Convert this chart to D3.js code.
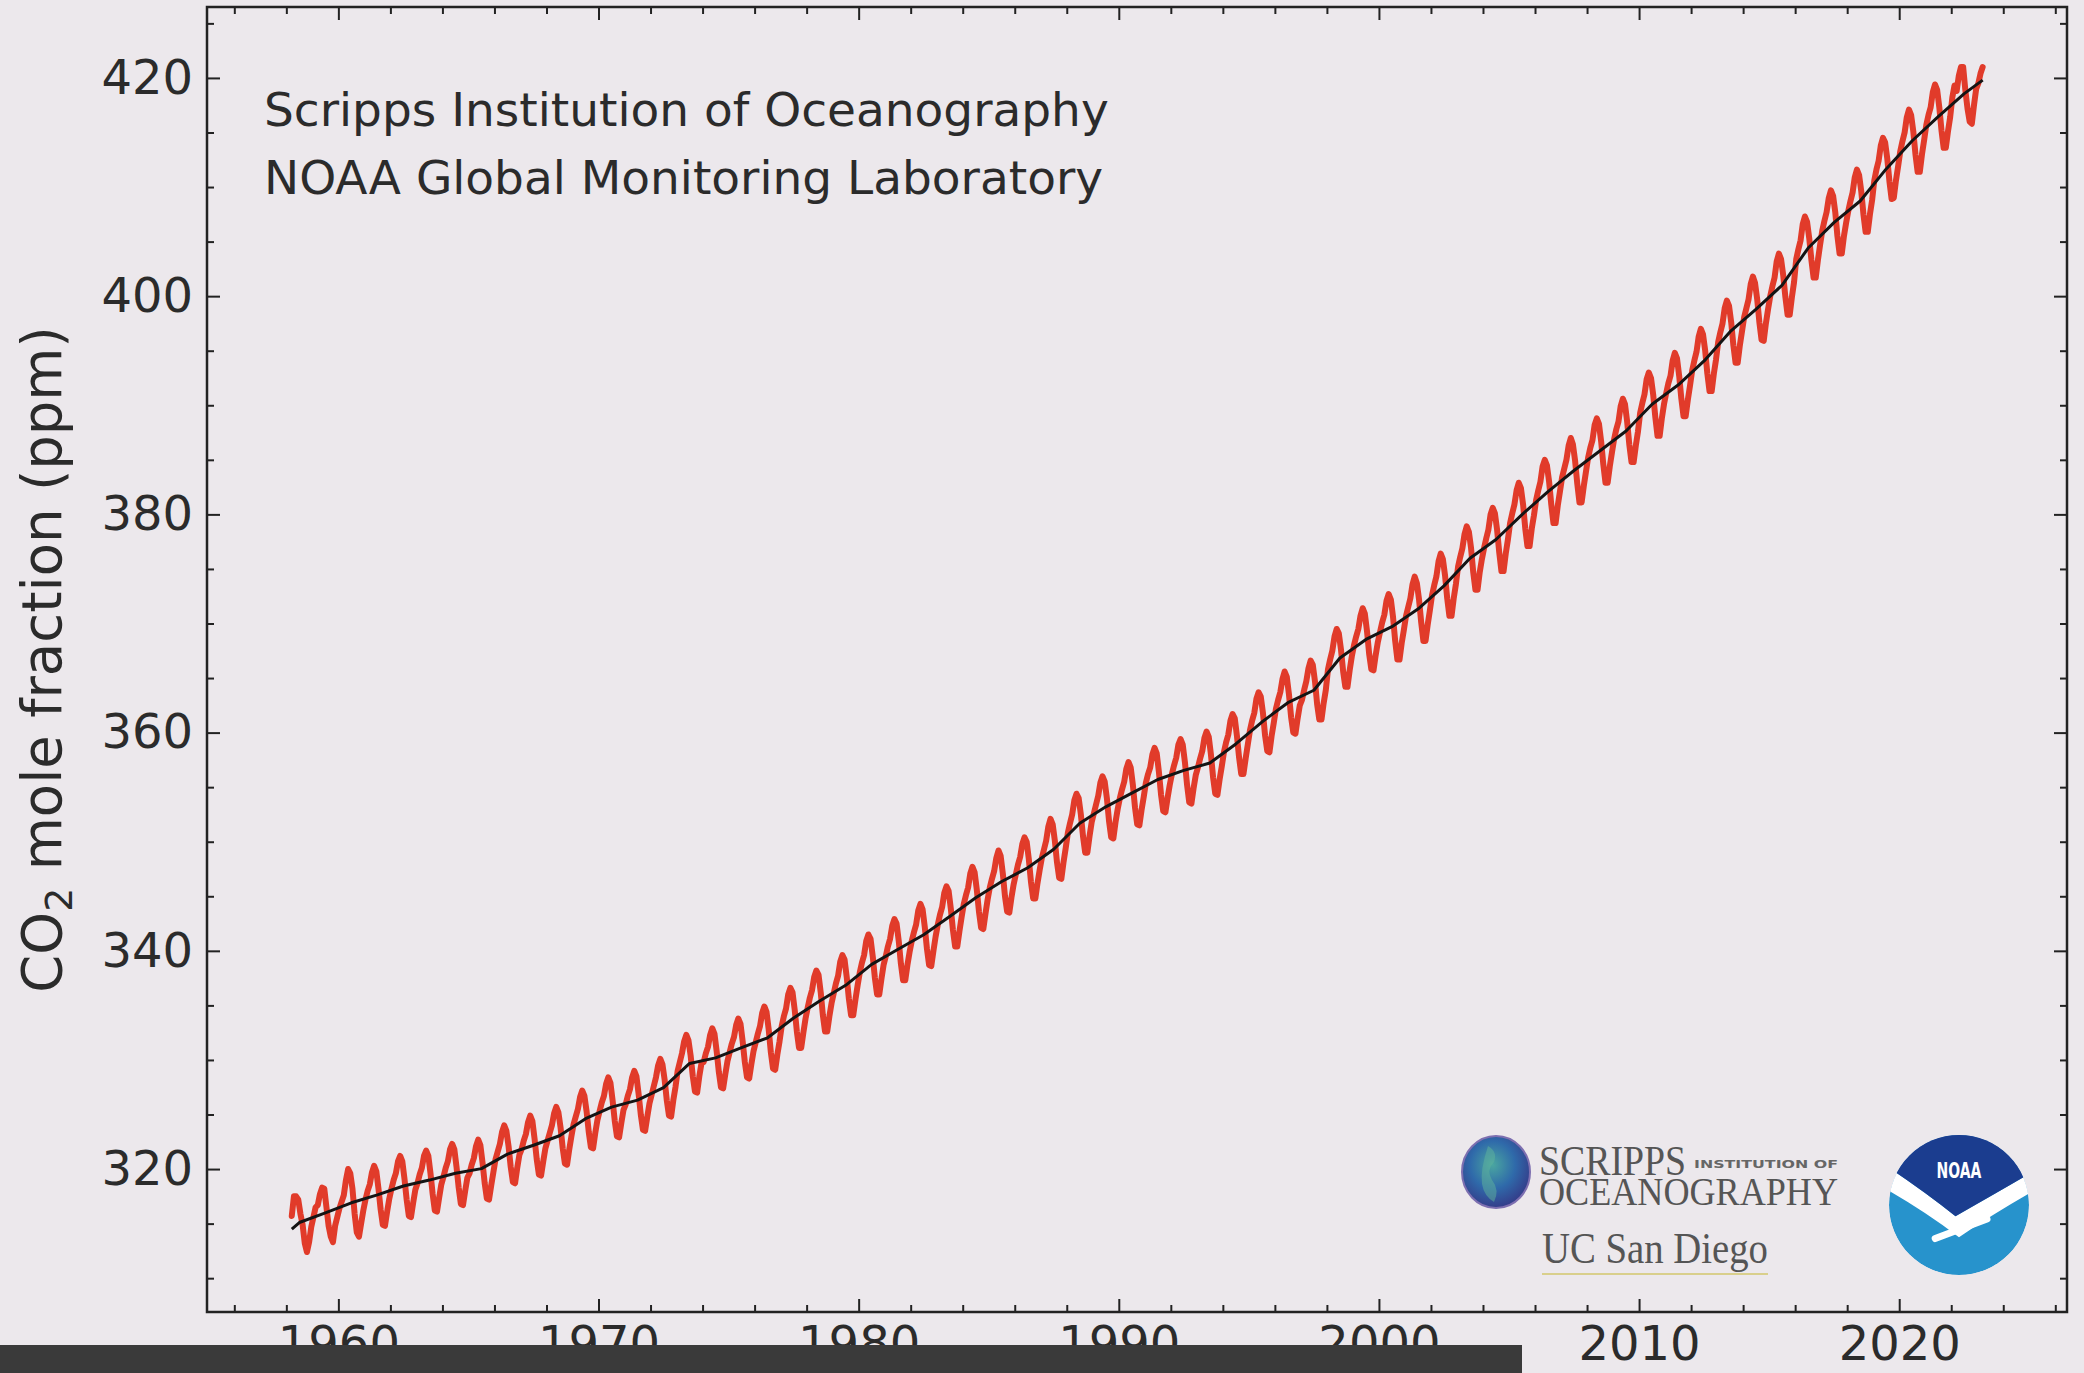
<!DOCTYPE html>
<html>
<head>
<meta charset="utf-8">
<script src="https://cdn.jsdelivr.net/npm/d3@7"></script>
<style>
  html, body { margin: 0; padding: 0; background: #ece8ec; }
  svg { display: block; }
</style>
</head>
<body>
<svg id="chart" width="2084" height="1373"></svg>
<script>
// Mauna Loa monthly mean CO2 mole fraction (ppm), March 1958 – March 2023
const firstYear = 1958;
const firstMonth = 3;
const monthlyCO2 = [
  315.7, 317.5, 317.5, 317.2, 315.9, 314.9, 313.2, 312.4, 313.3, 314.7,                 // 1958
  315.6, 316.5, 316.7, 317.7, 318.3, 318.2, 316.5, 314.8, 313.8, 313.3, 314.8, 315.6,   // 1959
  316.4, 317.0, 317.6, 319.0, 320.0, 319.6, 318.2, 315.9, 314.2, 313.8, 315.0, 316.2,   // 1960
  317.2, 318.0, 318.6, 319.7, 320.3, 319.8, 318.2, 316.3, 314.9, 314.8, 316.1, 317.3,   // 1961
  318.2, 319.0, 319.6, 320.7, 321.2, 320.7, 319.1, 317.2, 315.7, 315.6, 316.9, 318.1,   // 1962
  318.7, 319.5, 320.1, 321.2, 321.7, 321.2, 319.6, 317.7, 316.2, 316.1, 317.4, 318.6,   // 1963
  319.3, 320.1, 320.7, 321.8, 322.3, 321.8, 320.2, 318.3, 316.8, 316.7, 318.0, 319.2,   // 1964
  319.6, 320.4, 321.0, 322.1, 322.7, 322.2, 320.6, 318.7, 317.3, 317.2, 318.5, 319.7,   // 1965
  320.9, 321.6, 322.3, 323.4, 324.0, 323.5, 322.1, 320.2, 318.8, 318.7, 320.1, 321.3,   // 1966
  321.8, 322.6, 323.2, 324.3, 324.9, 324.4, 322.8, 320.9, 319.5, 319.4, 320.7, 321.9,   // 1967
  322.6, 323.3, 324.0, 325.1, 325.7, 325.2, 323.8, 321.9, 320.5, 320.4, 321.8, 323.0,   // 1968
  324.1, 324.8, 325.5, 326.6, 327.2, 326.7, 325.3, 323.4, 322.0, 321.9, 323.3, 324.5,   // 1969
  325.3, 326.1, 326.7, 327.8, 328.4, 327.9, 326.3, 324.4, 323.0, 322.9, 324.2, 325.4,   // 1970
  325.9, 326.7, 327.3, 328.4, 329.0, 328.5, 326.9, 325.0, 323.6, 323.5, 324.8, 326.0,   // 1971
  326.8, 327.6, 328.4, 329.5, 330.1, 329.6, 328.2, 326.3, 324.9, 324.8, 326.3, 327.5,   // 1972
  329.0, 329.8, 330.6, 331.7, 332.3, 331.8, 330.4, 328.5, 327.1, 327.0, 328.5, 329.7,   // 1973
  329.8, 330.6, 331.2, 332.3, 332.9, 332.4, 330.8, 328.9, 327.5, 327.4, 328.7, 329.9,   // 1974
  330.7, 331.5, 332.1, 333.2, 333.8, 333.3, 331.7, 329.8, 328.4, 328.3, 329.6, 330.8,   // 1975
  331.6, 332.4, 333.1, 334.3, 334.9, 334.4, 332.8, 330.7, 329.2, 329.1, 330.5, 331.7,   // 1976
  333.1, 334.0, 334.7, 336.0, 336.6, 336.2, 334.6, 332.6, 331.1, 331.1, 332.5, 333.8,   // 1977
  334.8, 335.7, 336.4, 337.6, 338.2, 337.8, 336.2, 334.1, 332.6, 332.6, 334.0, 335.2,   // 1978
  336.1, 337.0, 337.7, 339.0, 339.6, 339.2, 337.6, 335.6, 334.1, 334.1, 335.5, 336.8,   // 1979
  338.0, 338.9, 339.6, 340.9, 341.5, 341.1, 339.5, 337.5, 336.0, 336.0, 337.4, 338.7,   // 1980
  339.5, 340.4, 341.1, 342.3, 342.9, 342.5, 340.9, 338.8, 337.3, 337.3, 338.7, 339.9,   // 1981
  340.9, 341.7, 342.4, 343.7, 344.3, 343.8, 342.2, 340.2, 338.7, 338.6, 340.0, 341.3,   // 1982
  342.4, 343.3, 344.0, 345.3, 345.9, 345.5, 343.9, 341.9, 340.4, 340.4, 341.8, 343.1,   // 1983
  344.3, 345.1, 345.8, 347.1, 347.7, 347.2, 345.6, 343.6, 342.1, 342.0, 343.4, 344.7,   // 1984
  345.8, 346.6, 347.3, 348.5, 349.2, 348.7, 347.1, 345.0, 343.6, 343.5, 344.9, 346.1,   // 1985
  347.0, 347.9, 348.6, 349.8, 350.4, 350.0, 348.4, 346.3, 344.8, 344.8, 346.2, 347.4,   // 1986
  348.5, 349.3, 350.1, 351.4, 352.1, 351.6, 350.1, 348.1, 346.7, 346.6, 348.1, 349.4,   // 1987
  350.8, 351.7, 352.5, 353.8, 354.4, 354.0, 352.5, 350.5, 349.0, 349.0, 350.5, 351.8,   // 1988
  352.6, 353.4, 354.2, 355.4, 356.0, 355.5, 354.0, 351.9, 350.4, 350.3, 351.8, 353.0,   // 1989
  354.0, 354.8, 355.5, 356.7, 357.3, 356.8, 355.2, 353.1, 351.6, 351.5, 352.9, 354.1,   // 1990
  355.4, 356.2, 356.8, 358.0, 358.6, 358.1, 356.4, 354.3, 352.8, 352.7, 354.0, 355.2,   // 1991
  356.2, 357.0, 357.7, 358.9, 359.4, 358.9, 357.3, 355.2, 353.6, 353.5, 354.9, 356.1,   // 1992
  356.8, 357.6, 358.3, 359.5, 360.1, 359.6, 358.0, 355.9, 354.4, 354.3, 355.7, 356.9,   // 1993
  358.2, 359.1, 359.8, 361.1, 361.7, 361.3, 359.7, 357.7, 356.2, 356.2, 357.6, 358.9,   // 1994
  360.2, 361.1, 361.8, 363.1, 363.7, 363.3, 361.8, 359.7, 358.3, 358.2, 359.7, 360.9,   // 1995
  362.2, 363.0, 363.7, 364.9, 365.6, 365.1, 363.5, 361.4, 360.0, 359.9, 361.3, 362.5,   // 1996
  363.0, 363.9, 364.7, 365.9, 366.6, 366.2, 364.7, 362.6, 361.2, 361.2, 362.7, 363.9,   // 1997
  365.8, 366.7, 367.5, 368.8, 369.5, 369.1, 367.6, 365.6, 364.2, 364.2, 365.7, 367.0,   // 1998
  368.0, 368.8, 369.5, 370.7, 371.4, 370.9, 369.3, 367.2, 365.8, 365.7, 367.1, 368.3,   // 1999
  369.2, 370.1, 370.8, 372.1, 372.7, 372.2, 370.6, 368.4, 366.7, 366.7, 368.2, 369.4,   // 2000
  370.7, 371.5, 372.3, 373.6, 374.3, 373.7, 372.2, 370.1, 368.4, 368.4, 369.9, 371.2,   // 2001
  372.6, 373.5, 374.3, 375.7, 376.4, 375.9, 374.4, 372.3, 370.7, 370.7, 372.3, 373.6,   // 2002
  375.2, 376.1, 376.9, 378.2, 378.9, 378.4, 376.9, 374.7, 373.1, 373.1, 374.7, 375.9,   // 2003
  376.9, 377.8, 378.6, 380.0, 380.6, 380.1, 378.6, 376.5, 374.8, 374.8, 376.4, 377.7,   // 2004
  379.2, 380.1, 380.9, 382.2, 382.9, 382.4, 380.9, 378.7, 377.1, 377.1, 378.7, 379.9,   // 2005
  381.3, 382.2, 383.0, 384.4, 385.0, 384.5, 383.0, 380.9, 379.2, 379.2, 380.8, 382.1,   // 2006
  383.4, 384.2, 385.0, 386.3, 387.0, 386.4, 384.9, 382.8, 381.1, 381.1, 382.6, 383.9,   // 2007
  385.2, 386.1, 386.8, 388.2, 388.8, 388.3, 386.7, 384.6, 382.9, 382.9, 384.4, 385.7,   // 2008
  386.9, 387.8, 388.5, 389.9, 390.6, 390.1, 388.5, 386.4, 384.8, 384.8, 386.3, 387.6,   // 2009
  389.3, 390.2, 391.0, 392.4, 393.0, 392.5, 391.0, 388.9, 387.2, 387.2, 388.8, 390.1,   // 2010
  391.1, 392.0, 392.7, 394.1, 394.8, 394.3, 392.7, 390.6, 389.0, 389.0, 390.5, 391.8,   // 2011
  393.2, 394.1, 394.9, 396.3, 397.0, 396.5, 395.0, 392.9, 391.3, 391.3, 392.9, 394.2,   // 2012
  395.8, 396.7, 397.5, 398.9, 399.6, 399.1, 397.6, 395.5, 393.9, 393.9, 395.5, 396.8,   // 2013
  398.1, 398.9, 399.7, 401.1, 401.8, 401.2, 399.7, 397.6, 396.0, 395.9, 397.5, 398.8,   // 2014
  400.0, 400.9, 401.7, 403.2, 403.9, 403.4, 401.9, 399.9, 398.3, 398.3, 399.9, 401.3,   // 2015
  403.4, 404.3, 405.1, 406.6, 407.3, 406.8, 405.3, 403.3, 401.7, 401.7, 403.3, 404.7,   // 2016
  406.0, 406.9, 407.7, 409.0, 409.7, 409.2, 407.7, 405.5, 403.9, 403.9, 405.5, 406.7,   // 2017
  407.8, 408.7, 409.5, 410.9, 411.6, 411.1, 409.6, 407.5, 405.9, 405.9, 407.5, 408.8,   // 2018
  410.6, 411.6, 412.4, 413.8, 414.5, 414.1, 412.6, 410.5, 408.9, 409.0, 410.6, 411.9,   // 2019
  413.3, 414.2, 415.0, 416.4, 417.1, 416.6, 415.1, 413.0, 411.4, 411.4, 413.0, 414.3,   // 2020
  415.7, 416.6, 417.3, 418.7, 419.4, 418.9, 417.3, 415.2, 413.6, 413.6, 415.1, 416.4,   // 2021
  418.2, 419.3, 418.8, 420.2, 421.0, 421.0, 418.9, 417.2, 416.0, 415.8, 417.5, 419.0,   // 2022
  419.5, 420.4, 421.0                                                                   // 2023
];

// Seasonally adjusted trend: start point, mid-year values 1958–2022, end point
const trendStart = { date: 1958.21, value: 314.5 };
const trendEnd = { date: 2023.21, value: 419.8 };
const trendMidYear = [
  315.1, 315.98, 316.91, 317.64, 318.45, 318.99, 319.62, 320.04, 321.37, 322.18,   // 1958–1967
  323.05, 324.62, 325.68, 326.32, 327.46, 329.68, 330.19, 331.12, 332.03, 333.84,  // 1968–1977
  335.41, 336.84, 338.76, 340.12, 341.48, 343.15, 344.87, 346.35, 347.61, 349.31,  // 1978–1987
  351.69, 353.20, 354.45, 355.70, 356.54, 357.21, 358.96, 360.97, 362.74, 363.88,  // 1988–1997
  366.84, 368.54, 369.71, 371.32, 373.45, 375.98, 377.70, 379.98, 382.09, 384.02,  // 1998–2007
  385.83, 387.64, 390.10, 391.85, 394.06, 396.74, 398.81, 401.01, 404.41, 406.76,  // 2008–2017
  408.72, 411.66, 414.24, 416.45, 418.56                                           // 2018–2022
];

const xMajorTicks = [1960, 1970, 1980, 1990, 2000, 2010, 2020];
const xMinorTicks = [1956, 1958, 1962, 1964, 1966, 1968, 1972, 1974, 1976, 1978,
                     1982, 1984, 1986, 1988, 1992, 1994, 1996, 1998, 2002, 2004,
                     2006, 2008, 2012, 2014, 2016, 2018, 2022, 2024, 2026];
const yMajorTicks = [320, 340, 360, 380, 400, 420];
const yMinorTicks = [310, 315, 325, 330, 335, 345, 350, 355, 365, 370, 375,
                     385, 390, 395, 405, 410, 415, 425];

const creditLines = ["Scripps Institution of Oceanography", "NOAA Global Monitoring Laboratory"];
const yLabelParts = { main: "CO", sub: "2", rest: " mole fraction (ppm)" };

// ---------------------------------------------------------------- layout
const svg = d3.select("#chart");
const plot = { left: 207, right: 2067, top: 7, bottom: 1312 };
const FONT = "'DejaVu Sans', sans-serif";
const INK = "#2b2b2b";

const x = d3.scaleLinear().domain([1954.95, 2026.45]).range([plot.left, plot.right]);
const y = d3.scaleLinear().domain([306.9, 426.5]).range([plot.bottom, plot.top]);

svg.append("rect").attr("width", 2084).attr("height", 1373).attr("fill", "#ece8ec");

// ---------------------------------------------------------------- data series
const monthly = monthlyCO2.map((v, i) => ({
  date: firstYear + (firstMonth - 1 + i + 0.5) / 12,
  value: v
}));
const trend = [trendStart]
  .concat(trendMidYear.map((v, i) => ({ date: firstYear + i + 0.5, value: v })))
  .concat([trendEnd]);

const line = d3.line().x(d => x(d.date)).y(d => y(d.value));

svg.append("path")
  .datum(monthly)
  .attr("d", line)
  .attr("fill", "none")
  .attr("stroke", "#e13b2a")
  .attr("stroke-width", 6)
  .attr("stroke-linejoin", "round")
  .attr("stroke-linecap", "round");

svg.append("path")
  .datum(trend)
  .attr("d", line)
  .attr("fill", "none")
  .attr("stroke", "#141414")
  .attr("stroke-width", 3)
  .attr("stroke-linejoin", "round");

// ---------------------------------------------------------------- axes (ticks point inward)
const MAJOR = 13, MINOR = 7;

function styleAxis(g) {
  g.select(".domain").remove();
  g.selectAll(".tick line").attr("stroke", "#222").attr("stroke-width", 2);
  g.selectAll(".tick text")
    .attr("fill", INK)
    .style("font-family", FONT)
    .style("font-size", "48px");
}

svg.append("g").attr("transform", `translate(0,${plot.bottom})`)
  .call(d3.axisBottom(x).tickValues(xMajorTicks).tickSize(-MAJOR).tickPadding(14).tickFormat(d3.format("d")))
  .call(styleAxis);
svg.append("g").attr("transform", `translate(0,${plot.bottom})`)
  .call(d3.axisBottom(x).tickValues(xMinorTicks).tickSize(-MINOR).tickFormat(""))
  .call(styleAxis);
svg.append("g").attr("transform", `translate(0,${plot.top})`)
  .call(d3.axisTop(x).tickValues(xMajorTicks).tickSize(-MAJOR).tickFormat(""))
  .call(styleAxis);
svg.append("g").attr("transform", `translate(0,${plot.top})`)
  .call(d3.axisTop(x).tickValues(xMinorTicks).tickSize(-MINOR).tickFormat(""))
  .call(styleAxis);

svg.append("g").attr("transform", `translate(${plot.left},0)`)
  .call(d3.axisLeft(y).tickValues(yMajorTicks).tickSize(-MAJOR).tickPadding(14).tickFormat(d3.format("d")))
  .call(styleAxis);
svg.append("g").attr("transform", `translate(${plot.left},0)`)
  .call(d3.axisLeft(y).tickValues(yMinorTicks).tickSize(-MINOR).tickFormat(""))
  .call(styleAxis);
svg.append("g").attr("transform", `translate(${plot.right},0)`)
  .call(d3.axisRight(y).tickValues(yMajorTicks).tickSize(-MAJOR).tickFormat(""))
  .call(styleAxis);
svg.append("g").attr("transform", `translate(${plot.right},0)`)
  .call(d3.axisRight(y).tickValues(yMinorTicks).tickSize(-MINOR).tickFormat(""))
  .call(styleAxis);

svg.append("rect")
  .attr("x", plot.left).attr("y", plot.top)
  .attr("width", plot.right - plot.left).attr("height", plot.bottom - plot.top)
  .attr("fill", "none").attr("stroke", "#222").attr("stroke-width", 2.5);

// ---------------------------------------------------------------- y-axis label
const yLabel = svg.append("text")
  .attr("transform", `translate(61,${(plot.top + plot.bottom) / 2}) rotate(-90)`)
  .attr("text-anchor", "middle")
  .attr("fill", INK)
  .style("font-family", FONT)
  .style("font-size", "54.5px");
yLabel.append("tspan").text(yLabelParts.main);
yLabel.append("tspan").attr("dy", "0.28em").style("font-size", "38px").text(yLabelParts.sub);
yLabel.append("tspan").attr("dy", "-0.2em").text(yLabelParts.rest);

// ---------------------------------------------------------------- credit lines
svg.selectAll("text.credit")
  .data(creditLines)
  .join("text")
  .attr("class", "credit")
  .attr("x", 264)
  .attr("y", (d, i) => 126 + i * 68)
  .attr("fill", INK)
  .style("font-family", FONT)
  .style("font-size", "47px")
  .text(d => d);

// ---------------------------------------------------------------- Scripps / UC San Diego logo
const defs = svg.append("defs");
const globeGrad = defs.append("radialGradient").attr("id", "globe")
  .attr("cx", "45%").attr("cy", "40%").attr("r", "60%");
globeGrad.append("stop").attr("offset", "0%").attr("stop-color", "#4aa6a0");
globeGrad.append("stop").attr("offset", "55%").attr("stop-color", "#2f6aaa");
globeGrad.append("stop").attr("offset", "100%").attr("stop-color", "#343d8a");

const scripps = svg.append("g");
scripps.append("ellipse")
  .attr("cx", 1496).attr("cy", 1172).attr("rx", 34).attr("ry", 36)
  .attr("fill", "url(#globe)").attr("stroke", "#7d6fb0").attr("stroke-width", 2);
scripps.append("path")
  .attr("d", "M1488,1146 q10,6 6,16 q-8,8 -2,18 q8,10 2,22 q-10,-6 -12,-18 q-2,-14 6,-38z")
  .attr("fill", "#5fb39c").attr("opacity", 0.5);

// wordmark set as one text block
const serif = "'Liberation Serif', 'DejaVu Serif', serif";
const wordmark = scripps.append("text")
  .attr("fill", "#555")
  .style("font-family", serif);
wordmark.append("tspan").attr("x", 1539).attr("y", 1175)
  .attr("textLength", 147).attr("lengthAdjust", "spacingAndGlyphs")
  .style("font-size", "42px").text("SCRIPPS");
wordmark.append("tspan").attr("x", 1694).attr("y", 1168)
  .attr("textLength", 144).attr("lengthAdjust", "spacingAndGlyphs")
  .attr("fill", "#666")
  .style("font-family", FONT).style("font-weight", "bold")
  .style("font-size", "11px").text("INSTITUTION OF");
wordmark.append("tspan").attr("x", 1539).attr("y", 1205)
  .attr("textLength", 299).attr("lengthAdjust", "spacingAndGlyphs")
  .style("font-size", "40px").text("OCEANOGRAPHY");

scripps.append("text").attr("x", 1542).attr("y", 1263)
  .attr("textLength", 226).attr("lengthAdjust", "spacingAndGlyphs")
  .attr("fill", "#555").style("font-family", serif).style("font-size", "44px").text("UC San Diego");
scripps.append("line")
  .attr("x1", 1542).attr("x2", 1768).attr("y1", 1274).attr("y2", 1274)
  .attr("stroke", "#d9cf8c").attr("stroke-width", 2);

// ---------------------------------------------------------------- NOAA logo
const noaa = { cx: 1959, cy: 1205, r: 70 };
defs.append("clipPath").attr("id", "noaaClip")
  .append("circle").attr("cx", 0).attr("cy", 0).attr("r", 1);

const ng = svg.append("g")
  .attr("transform", `translate(${noaa.cx},${noaa.cy}) scale(${noaa.r})`);
const inner = ng.append("g").attr("clip-path", "url(#noaaClip)");
inner.append("circle").attr("r", 1).attr("fill", "#2793cc");
inner.append("path")
  .attr("d", "M-1.1,-0.6 Q-0.5,-0.2 -0.05,0.16 Q0.5,-0.15 1.1,-0.5 L1.1,-0.22 Q0.5,0.12 0.0,0.46 Q-0.5,0.08 -1.1,-0.26 Z")
  .attr("fill", "#ffffff");
inner.append("path")
  .attr("d", "M-1.1,-1.1 L1.1,-1.1 L1.1,-0.5 Q0.5,-0.15 -0.05,0.16 Q-0.5,-0.2 -1.1,-0.6 Z")
  .attr("fill", "#1b3d8f");
inner.append("path")
  .attr("d", "M-0.34,0.48 L0.4,0.2")
  .attr("stroke", "#ffffff").attr("stroke-width", 0.1).attr("stroke-linecap", "round");
ng.append("text")
  .attr("x", 0).attr("y", -0.38)
  .attr("text-anchor", "middle")
  .attr("textLength", 0.64).attr("lengthAdjust", "spacingAndGlyphs")
  .attr("fill", "#ffffff")
  .style("font-family", FONT).style("font-weight", "bold").style("font-size", "0.3px")
  .text("NOAA");

// ---------------------------------------------------------------- caption bar along the bottom edge
svg.append("rect")
  .attr("x", 0).attr("y", 1345).attr("width", 1522).attr("height", 28)
  .attr("fill", "#3a3a3a");
</script>
</body>
</html>
